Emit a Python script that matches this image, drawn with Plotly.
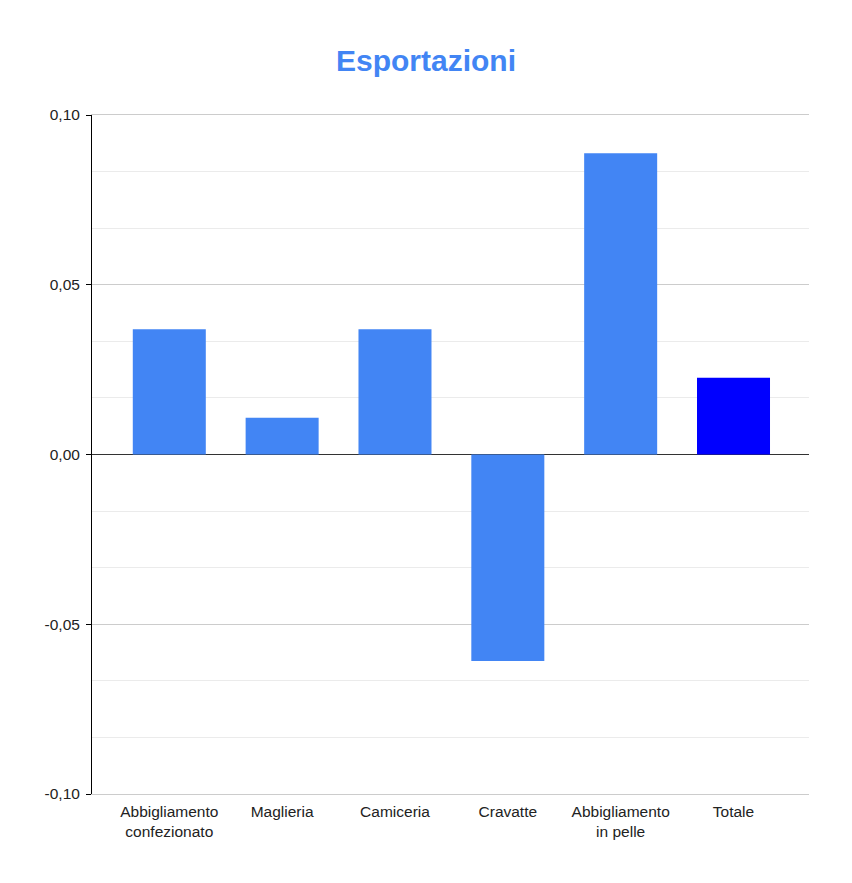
import plotly.graph_objects as go

categories = ["Abbigliamento<br>confezionato", "Maglieria", "Camiceria", "Cravatte", "Abbigliamento<br>in pelle", "Totale"]
values = [0.0369, 0.0108, 0.0369, -0.0608, 0.0887, 0.0226]
colors = ["#4285F4", "#4285F4", "#4285F4", "#4285F4", "#4285F4", "#0000FF"]
ytick_vals = [-0.10, -0.05, 0.0, 0.05, 0.10]
ytick_text = ["-0,10", "-0,05", "0,00", "0,05", "0,10"]

fig = go.Figure(go.Bar(x=categories, y=values, marker=dict(color=colors, line=dict(width=0))))

FONT = "Liberation Sans, Arial, sans-serif"
fig.update_layout(
    width=852, height=883,
    margin=dict(l=84, r=51, t=107, b=97),
    paper_bgcolor="white", plot_bgcolor="white",
    font=dict(family=FONT, size=15.5, color="#222222"),
    title=dict(text="<b>Esportazioni</b>", x=0.4906, xanchor="center", y=0.941, yanchor="middle",
               font=dict(size=30, color="#4285F4", family=FONT)),
    bargap=0.353,
    showlegend=False,
)
fig.update_yaxes(
    range=[-0.10, 0.10], tickvals=ytick_vals, ticktext=ytick_text,
    showgrid=True, gridcolor="#cccccc", gridwidth=1,
    minor=dict(dtick=0.05 / 3, tick0=0, showgrid=True, gridcolor="#ebebeb", gridwidth=1),
    zeroline=True, zerolinecolor="#333333", zerolinewidth=1,
    showline=True, linecolor="#000000", linewidth=1,
    ticks="outside", ticklen=5, tickcolor="#000000",
    ticklabelstandoff=3,
    tickfont=dict(size=15.5, color="#222222"),
)
fig.update_xaxes(range=[-0.685, 5.669], showline=True, mirror=True, linecolor="#cccccc", linewidth=1, showgrid=False,
                 ticks="outside", ticklen=3, tickcolor="rgba(0,0,0,0)",
                 tickfont=dict(size=15.5, color="#222222"))

fig.write_html("out.html")
